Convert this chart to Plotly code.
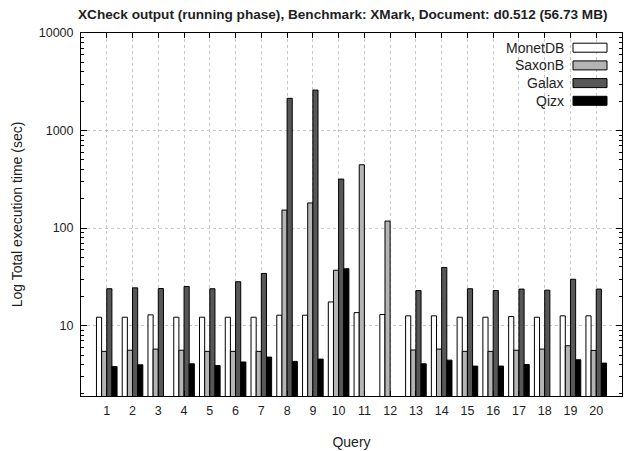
import plotly.graph_objects as go
import math

queries = [str(i) for i in range(1, 21)]
series_names = ["MonetDB", "SaxonB", "Galax", "Qizx"]
series_colors = ["#ffffff", "#b4b4b4", "#575757", "#000000"]

monetdb = [12.2, 12.2, 12.9, 12.2, 12.2, 12.2, 12.2, 12.8, 12.8, 17.5,
           13.6, 13.0, 12.6, 12.6, 12.2, 12.2, 12.4, 12.2, 12.6, 12.6]
saxonb = [5.45, 5.6, 5.75, 5.6, 5.45, 5.45, 5.45, 153, 181, 37,
          446, 118, 5.63, 5.75, 5.45, 5.45, 5.6, 5.75, 6.22, 5.57]
galax = [23.9, 24.4, 24.0, 25.2, 23.9, 28.2, 34.3, 2140, 2600, 318,
         None, None, 22.9, 39.5, 23.9, 22.9, 23.7, 23.1, 29.9, 23.7]
qizx = [3.81, 3.97, None, 4.06, 3.9, 4.24, 4.76, 4.3, 4.54, 38.3,
        None, None, 4.06, 4.43, 3.85, 3.85, 4.0, None, 4.47, 4.13]
series_values = [monetdb, saxonb, galax, qizx]

major_ticks = [10, 100, 1000, 10000]
minor_ticks = [m * d for d in [1, 10, 100, 1000] for m in range(2, 10)]

FONT = "Liberation Sans"
TXT = "#1e1e1e"

# page has an 8px body margin; figure is sized/offset to compensate
OFF = 8
W, H = 631 - OFF, 451 - OFF
ML, MR, MT, MB = 81 - OFF, 9, 33 - OFF, 55
PW, PH = W - ML - MR, H - MT - MB

fig = go.Figure()
for name, color, vals in zip(series_names, series_colors, series_values):
    fig.add_trace(go.Bar(
        x=queries, y=vals, name=name,
        marker=dict(color=color, line=dict(color="#000000", width=1)),
        showlegend=False,
    ))

# manual legend (text right-aligned, key box on the right), like gnuplot
def px_to_paper_x(px):
    return (px - OFF - ML) / PW

def px_to_paper_y(py):
    return (H - MB - (py - OFF)) / PH

legend_top = 47.7
legend_step = 17.7
for i, (name, color) in enumerate(zip(series_names, series_colors)):
    cy = legend_top + i * legend_step
    fig.add_annotation(
        x=px_to_paper_x(566), y=px_to_paper_y(cy), xref="paper", yref="paper",
        text=name, showarrow=False, xanchor="right", yanchor="middle",
        font=dict(family=FONT, size=14, color=TXT),
    )
    fig.add_shape(
        type="rect", xref="paper", yref="paper",
        x0=px_to_paper_x(573), x1=px_to_paper_x(607),
        y0=px_to_paper_y(cy - 4.5), y1=px_to_paper_y(cy + 4.5),
        fillcolor=color, line=dict(color="#000000", width=1),
    )

fig.add_annotation(
    x=px_to_paper_x(343), y=px_to_paper_y(14), xref="paper", yref="paper",
    text="<b>XCheck output (running phase), Benchmark: XMark, Document: d0.512 (56.73 MB)</b>",
    showarrow=False, xanchor="center", yanchor="middle",
    font=dict(family=FONT, size=13.6, color=TXT),
)

fig.update_layout(
    width=W, height=H,
    margin=dict(l=ML, r=MR, t=MT, b=MB, pad=0, autoexpand=False),
    paper_bgcolor="white", plot_bgcolor="white",
    barmode="group", bargap=0.2, bargroupgap=0.0,
    font=dict(family=FONT, size=12, color=TXT),
)

fig.update_xaxes(
    type="category", range=[-1, 20], automargin=False,
    showline=True, linecolor="#000000", linewidth=1, mirror="ticks",
    ticks="inside", ticklen=5, tickcolor="#000000",
    showgrid=True, gridcolor="#c8c8c8", griddash="dot", gridwidth=1,
    tickfont=dict(family=FONT, size=12.5, color=TXT), ticklabelstandoff=3,
    title=dict(text="Query", font=dict(family=FONT, size=14, color=TXT), standoff=20),
    zeroline=False,
)

fig.update_yaxes(
    type="log", range=[math.log10(1.9), 4], automargin=False,
    tickvals=major_ticks, ticktext=[str(v) for v in major_ticks],
    showline=True, linecolor="#000000", linewidth=1, mirror="ticks",
    ticks="inside", ticklen=6, tickcolor="#000000",
    minor=dict(tickvals=minor_ticks, ticks="inside", ticklen=3, tickcolor="#000000", showgrid=False),
    showgrid=True, gridcolor="#c8c8c8", griddash="dot", gridwidth=1,
    tickfont=dict(family=FONT, size=12.5, color=TXT), ticklabelstandoff=4,
    title=dict(text="Log Total execution time (sec)", font=dict(family=FONT, size=14, color=TXT), standoff=12),
    zeroline=False,
)

fig.write_html("out.html")
